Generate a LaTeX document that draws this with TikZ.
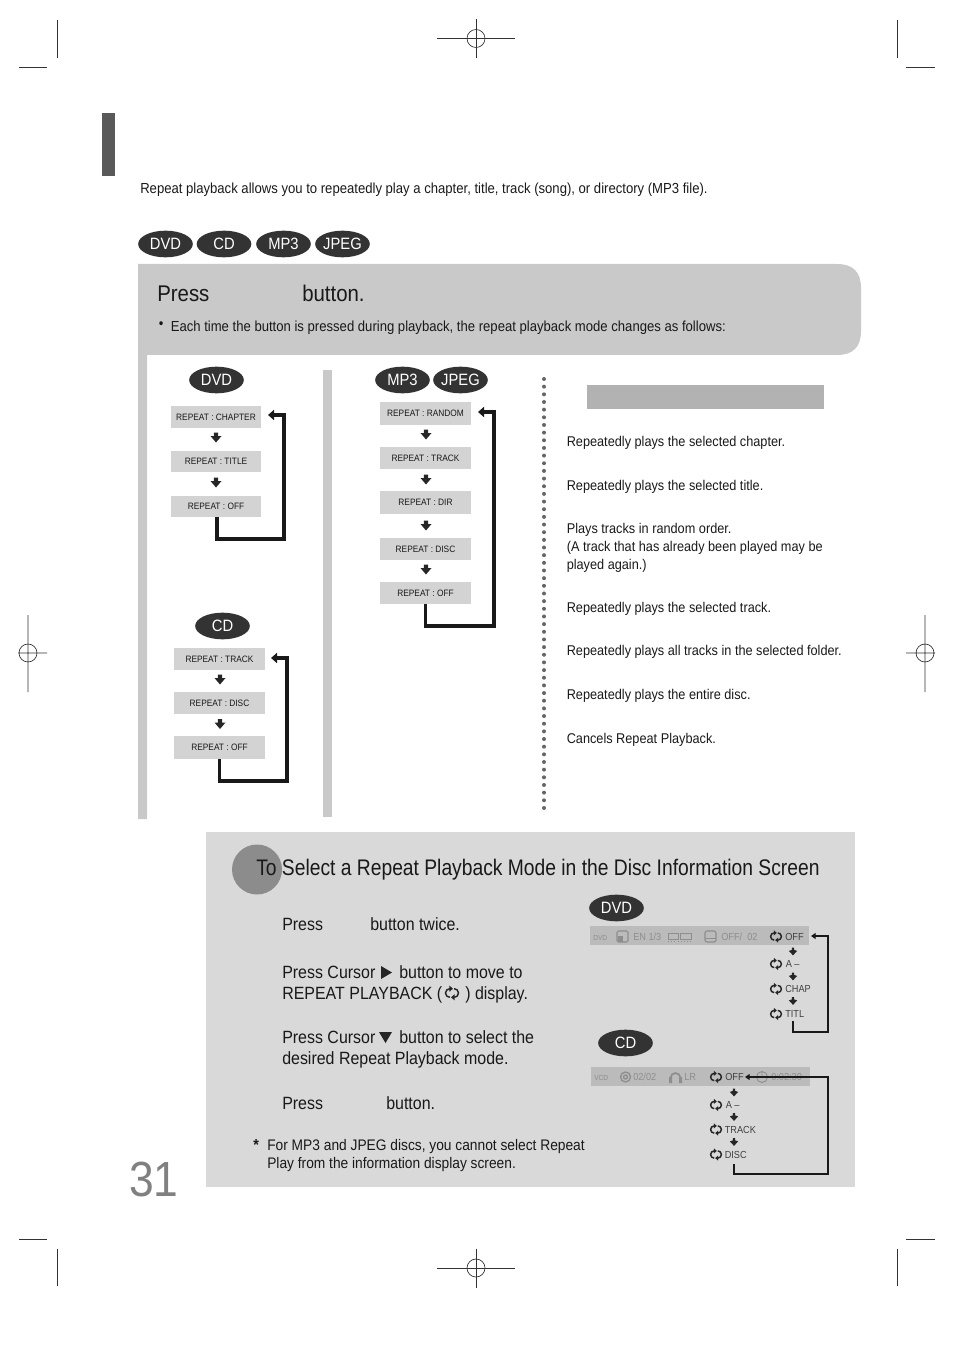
\documentclass[tikz,border=0pt]{standalone}
\usepackage{fontspec}
\setmainfont[FakeStretch=0.9]{Liberation Sans}
\newfontfamily\titlefont[FakeStretch=0.855]{Liberation Sans}
\usetikzlibrary{shapes.geometric,arrows.meta}
\definecolor{pilldark}{HTML}{333333}
\definecolor{panelgrey}{HTML}{C9C9C9}
\definecolor{lowergrey}{HTML}{D9D9D9}
\definecolor{boxgrey}{HTML}{D3D3D3}
\definecolor{barfaint}{HTML}{BBBBBB}
\definecolor{faintink}{HTML}{8E8E8E}
\tikzset{
 x=0.75pt,y=-0.75pt,
 pill/.style={ellipse,fill=pilldark,text=white,minimum width=41pt,minimum height=20pt,inner sep=0pt,font=\fontsize{12.3}{12}\selectfont},
 stepbox/.style={fill=boxgrey,inner sep=0pt,font=\fontsize{6.95}{7}\selectfont,text=black!90},
 txt/.style={anchor=mid west,inner sep=0pt,text=black!90},
 small/.style={txt,font=\fontsize{10.92}{11}\selectfont},
 desc/.style={txt,font=\fontsize{10.6}{11}\selectfont},
 med/.style={txt,font=\fontsize{13.3}{14}\selectfont},
 big/.style={txt,font=\fontsize{17}{18}\selectfont},
 note/.style={txt,font=\fontsize{11.47}{12}\selectfont},
 osd/.style={txt,font=\fontsize{7.65}{8}\selectfont,text=black!75},
 osdfaint/.style={txt,font=\fontsize{7.65}{8}\selectfont,text=faintink},
 loopthick/.style={draw=black!90,line width=2.3pt,-{Triangle[width=7.5pt,length=4.5pt]}},
 loopthin/.style={draw=black!90,line width=1.05pt,-{Triangle[width=4.5pt,length=3.5pt]}},
 crop/.style={draw=black!80,line width=0.5pt},
 pics/downarrow/.style={code={
   \fill[black!85] (-2.2,-5) -- (2.2,-5) -- (2.2,-1.5) -- (5.5,-1.5) -- (0,5) -- (-5.5,-1.5) -- (-2.2,-1.5) -- cycle;}},
 pics/smallarrow/.style={code={
   \fill[black!85] (-1.2,-3.8) -- (1.2,-3.8) -- (1.2,-1.6) -- (4.2,-0.6) -- (0,3.8) -- (-4.2,-0.6) -- (-1.2,-1.6) -- cycle;}},
 pics/rep/.style={code={
   \draw[line width=1.1pt,black!85] (-1.8,-3.6) arc[start angle=-90,end angle=-270,radius=3.6];
   \draw[line width=1.1pt,black!85] (1.8,3.6) arc[start angle=90,end angle=-90,radius=3.6];
   \fill[black!85] (-2.2,-6.2) -- (0.8,-3.6) -- (-2.2,-1) -- cycle;
   \fill[black!85] (2.2,6.2) -- (-0.8,3.6) -- (2.2,1) -- cycle;}},
 pics/reg/.style={code={
   \draw[crop] (-39,0) -- (39,0) (0,-19.5) -- (0,19.5);
   \draw[crop] (0,0) circle[radius=9];}},
}
\begin{document}
\begin{tikzpicture}
\useasboundingbox (0,0) rectangle (954,1351);
% crop marks
\draw[crop] (57,20)--(57,58) (19,67)--(47,67) (897,20)--(897,58) (906,67)--(935,67)
 (57,1249)--(57,1286) (19,1239)--(47,1239) (897,1249)--(897,1286) (906,1239)--(935,1239);
\pic at (476,38.5) {reg};
\pic at (476,1268) {reg};
\draw[crop] (18,653)--(47,653) (28,615)--(28,692) (28,653) circle[radius=9];
\draw[crop] (906,653)--(935,653) (925,615)--(925,692) (925,653) circle[radius=9];
% header
\fill[black!65] (102,113) rectangle (115,176);
\node[small] (intro) at (140,190) {Repeat playback allows you to repeatedly play a chapter, title, track (song), or directory (MP3 file).};
\node[pill] (p1) at (165.5,244) {DVD};
\node[pill] (p2) at (224,244) {CD};
\node[pill] (p3) at (283.5,244) {MP3};
\node[pill] (p4) at (342.5,244) {JPEG};
% panels
\fill[panelgrey] (138,264) -- (837,264) .. controls (853,264) and (861,272) .. (861,288) -- (861,331) .. controls (861,347) and (853,355) .. (837,355) -- (147,355) -- (147,819) -- (138,819) -- cycle;
\fill[panelgrey] (323,370) rectangle (332,817);
\node[big] (press) at (157,298) {Press};
\node[big] (pressb) at (302,298) {button.};
\node[small] (bul) at (158.5,325) {\textbullet};
\node[small] (each) at (170.5,328) {Each time the button is pressed during playback, the repeat playback mode changes as follows:};
% DVD column
\node[pill] (dvd) at (216.5,380) {DVD};
\node[stepbox,minimum width=67.5pt,minimum height=16.5pt] (d1) at (216,417) {REPEAT : CHAPTER};
\node[stepbox,minimum width=67.5pt,minimum height=16pt] (d2) at (216,461.5) {REPEAT : TITLE};
\node[stepbox,minimum width=67.5pt,minimum height=16pt] (d3) at (216,506.5) {REPEAT : OFF};
\pic at (216,437.5) {downarrow};
\pic at (216,482.5) {downarrow};
\coordinate (d1in) at (268,415);
\draw[loopthick] ([xshift=0.75pt]d3.south) |- (284,539) -- (284,415) -- (d1in);
% CD column
\node[pill] (cd) at (222.5,626) {CD};
\node[stepbox,minimum width=68pt,minimum height=16.5pt] (c1) at (219.5,659) {REPEAT : TRACK};
\node[stepbox,minimum width=68pt,minimum height=16.5pt] (c2) at (219.5,703) {REPEAT : DISC};
\node[stepbox,minimum width=68pt,minimum height=17pt] (c3) at (219.5,747.5) {REPEAT : OFF};
\pic at (220,679.5) {downarrow};
\pic at (220,724) {downarrow};
\coordinate (c1in) at (271,658);
\draw[loopthick] (c3.south) |- (287,781) -- (287,658) -- (c1in);
% MP3 column
\node[pill] (mp3) at (402.5,380) {MP3};
\node[pill] (jpg) at (460.5,380) {JPEG};
\node[stepbox,minimum width=68.5pt,minimum height=17pt] (m1) at (425.5,413.5) {REPEAT : RANDOM};
\node[stepbox,minimum width=68.5pt,minimum height=16.5pt] (m2) at (425.5,458) {REPEAT : TRACK};
\node[stepbox,minimum width=68.5pt,minimum height=17pt] (m3) at (425.5,502.5) {REPEAT : DIR};
\node[stepbox,minimum width=68.5pt,minimum height=16.5pt] (m4) at (425.5,549) {REPEAT : DISC};
\node[stepbox,minimum width=68.5pt,minimum height=16.5pt] (m5) at (425.5,593) {REPEAT : OFF};
\pic at (426,434.5) {downarrow};
\pic at (426,479.5) {downarrow};
\pic at (426,525.5) {downarrow};
\pic at (426,569.5) {downarrow};
\coordinate (m1in) at (478,412);
\draw[loopthick] (m5.south) |- (494,626) -- (494,412) -- (m1in);
% dotted separator
\foreach \i in {0,...,56} \fill[black!60] (544,{379+\i*7.66}) circle[radius=2];
% description
\fill[black!30] (587,385) rectangle (824,409);
\node[desc] (e1) at (566.5,443) {Repeatedly plays the selected chapter.};
\node[desc] (e2) at (566.5,487) {Repeatedly plays the selected title.};
\node[desc] (e3) at (566.5,530) {Plays tracks in random order.};
\node[desc] (e3b) at (566.5,548) {(A track that has already been played may be};
\node[desc] (e3c) at (566.5,566) {played again.)};
\node[desc] (e4) at (566.5,609) {Repeatedly plays the selected track.};
\node[desc] (e5) at (566.5,652) {Repeatedly plays all tracks in the selected folder.};
\node[desc] (e6) at (566.5,696) {Repeatedly plays the entire disc.};
\node[desc] (e7) at (566.5,740) {Cancels Repeat Playback.};
% lower panel
\fill[lowergrey] (206,832) rectangle (855,1187);
\fill[black!45] (257,869.5) circle[radius=25];
\node[txt,font=\titlefont\fontsize{16.9}{18}\selectfont] (title) at (256,872) {To Select a Repeat Playback Mode in the Disc Information Screen};
\node[med] (s1) at (282,927) {Press};
\node[med] (s1b) at (370,927) {button twice.};
\node[med] (s2) at (282,975) {Press Cursor};
\fill[black!85] (381,966) -- (392,972.5) -- (381,979) -- cycle;
\node[med] (s2b) at (399,975) {button to move to};
\node[med] (s3) at (282,996) {REPEAT PLAYBACK (};
\pic[scale=1.2] at (452,993) {rep};
\node[med] (s3b) at (465,996) {) display.};
\node[med] (s4) at (282,1040) {Press Cursor};
\fill[black!85] (379,1032) -- (392,1032) -- (385.5,1043) -- cycle;
\node[med] (s4b) at (399,1040) {button to select the};
\node[med] (s5) at (282,1061) {desired Repeat Playback mode.};
\node[med] (s6) at (282,1106) {Press};
\node[med] (s6b) at (386,1106) {button.};
\node[txt,font=\bfseries\fontsize{12}{12}\selectfont] (star) at (253,1147) {*};
\node[note] (n1) at (267,1147) {For MP3 and JPEG discs, you cannot select Repeat};
\node[note] (n2) at (267,1165) {Play from the information display screen.};
\node[txt,text=black!50,font=\fontsize{37}{38}\selectfont] (page) at (129,1193) {31};
% DVD osd
\node[pill] (dvd2) at (616.5,908) {DVD};
\fill[barfaint] (590,926) rectangle (809,945);
\node[osdfaint,font=\fontsize{5.5}{6}\selectfont] (o1) at (593,937) {DVD};
\draw[faintink,line width=0.8pt,rounded corners=1pt] (617,931) rectangle (628,942);
\fill[faintink] (618,936) rectangle (623,942);
\node[osdfaint] (o2) at (633,937) {EN 1/3};
\draw[faintink,line width=0.6pt] (668,933) rectangle (678,939) (680,933) rectangle (691,939);
\draw[faintink,line width=0.4pt,dotted] (668,941)--(691,941);
\draw[faintink,line width=0.8pt,rounded corners=1.5pt] (705,931) rectangle (716,942);
\draw[faintink,line width=0.6pt] (705,938)--(716,938);
\node[osdfaint] (o3) at (721,937) {OFF/\ \ 02};
\pic at (776,936.5) {rep};
\node[osd] (oa) at (785,937) {OFF};
\pic at (776,964) {rep};
\node[osd] (ob) at (785.5,964) {A –};
\pic at (776,989) {rep};
\node[osd] (oc) at (785,989) {CHAP};
\pic at (776,1014) {rep};
\node[osd] (od) at (785,1014) {TITL};
\pic at (793,951.5) {smallarrow};
\pic at (793,976.5) {smallarrow};
\pic at (793,1001) {smallarrow};
\coordinate (odb) at (793,1021);
\coordinate (oain) at (811,936);
\draw[loopthin] (odb) |- (828,1032) -- (828,936) -- (oain);
% CD osd
\node[pill] (cd2) at (625.5,1043) {CD};
\fill[barfaint] (591,1067) rectangle (810,1086);
\node[osdfaint,font=\fontsize{5.5}{6}\selectfont] (v1) at (594,1077) {VCD};
\draw[faintink,line width=1pt] (625.5,1077) circle[radius=5] circle[radius=2];
\node[osdfaint] (v2) at (633,1077) {02/02};
\draw[faintink,line width=1.3pt] (670.5,1078) arc[start angle=-180,end angle=0,radius=5];
\fill[faintink] (669,1077) rectangle (672,1083) (679,1077) rectangle (682,1083);
\node[osdfaint] (v3) at (684,1077) {LR};
\pic at (716,1077) {rep};
\node[osd] (va) at (725,1077) {OFF};
\draw[faintink,line width=0.7pt] (762,1077) circle[radius=5.5] (762,1072)--(762,1077);
\node[osdfaint] (v4) at (771,1077) {0:02:30};
\pic at (716,1105) {rep};
\node[osd] (vb) at (725.5,1105) {A –};
\pic at (716,1129.5) {rep};
\node[osd] (vc) at (724.5,1129.5) {TRACK};
\pic at (716,1154.5) {rep};
\node[osd] (vd) at (724.5,1154.5) {DISC};
\pic at (734,1092.5) {smallarrow};
\pic at (734,1117) {smallarrow};
\pic at (734,1142) {smallarrow};
\coordinate (vdb) at (734,1164);
\coordinate (vain) at (745,1077);
\draw[loopthin] (vdb) |- (828,1174) -- (828,1077) -- (vain);
\end{tikzpicture}
\end{document}
